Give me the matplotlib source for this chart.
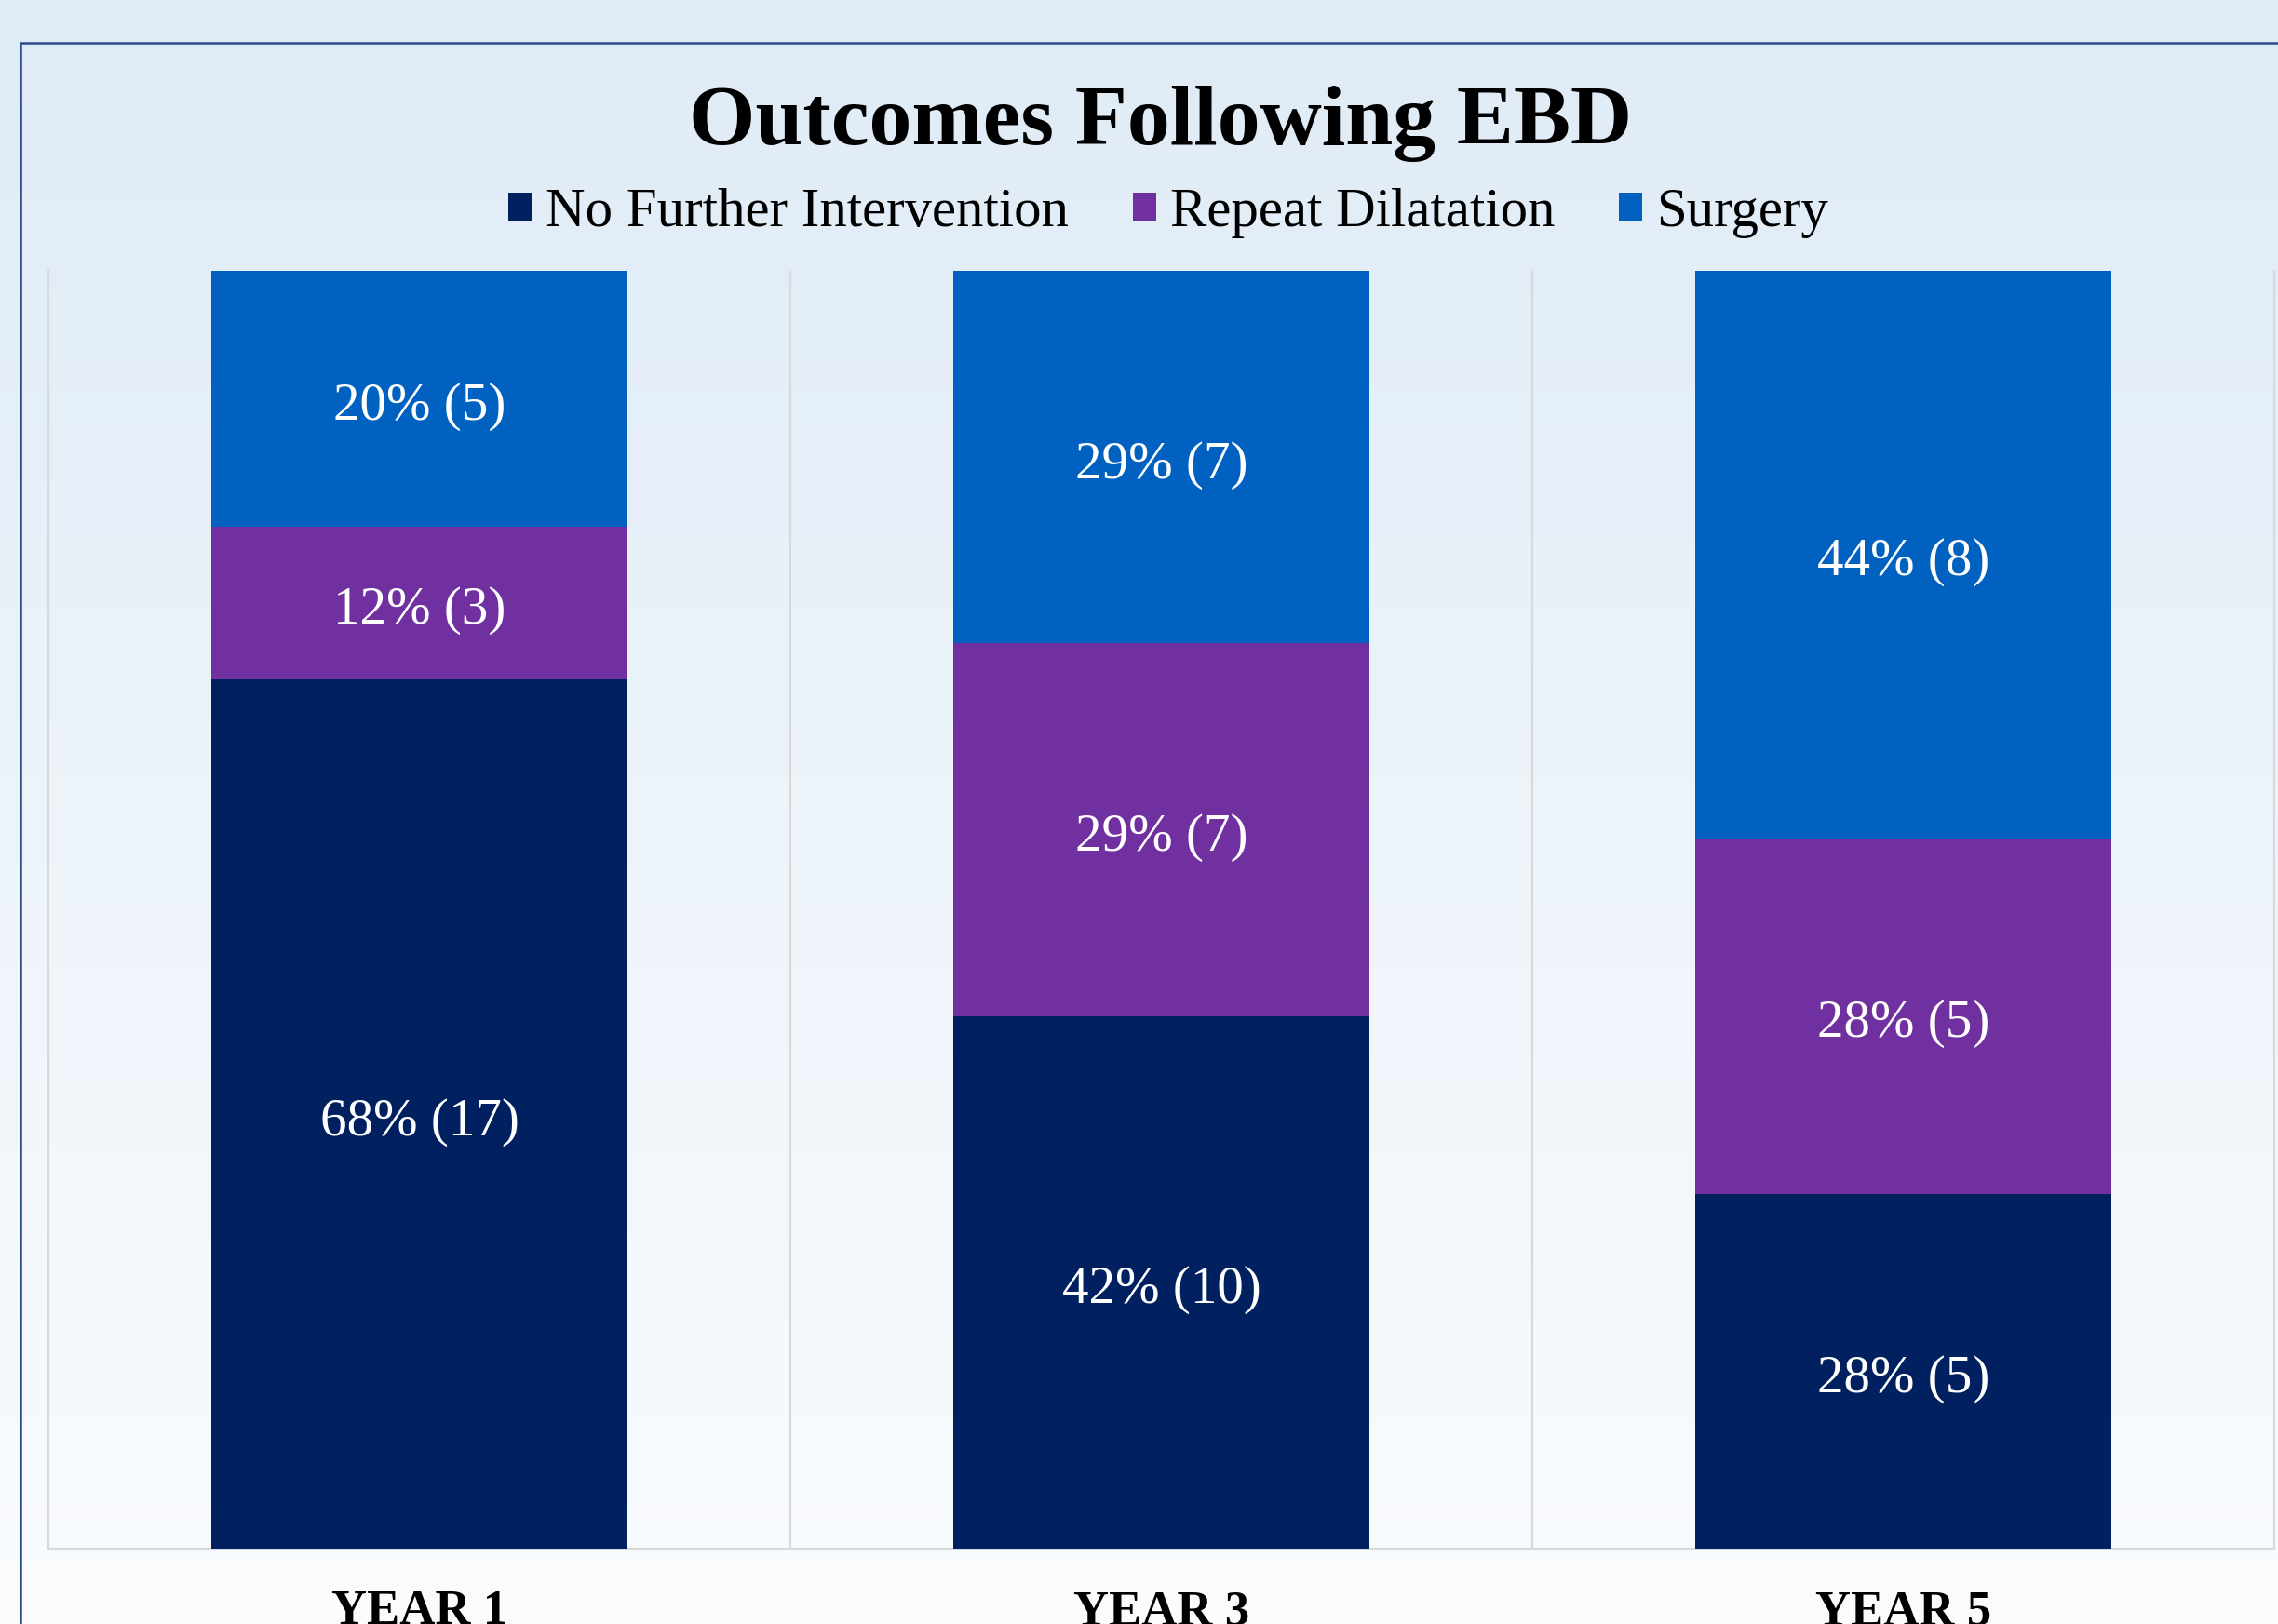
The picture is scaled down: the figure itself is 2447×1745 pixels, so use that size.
import numpy as np
import matplotlib.pyplot as plt
from matplotlib.patches import Rectangle

# data (patient counts per outcome)
years = ["YEAR 1", "YEAR 3", "YEAR 5"]
outcomes = ["No Further Intervention", "Repeat Dilatation", "Surgery"]
no_further = [17, 10, 5]
repeat_dil = [3, 7, 5]
surgery = [5, 7, 8]
colors = ["#002060", "#7030A0", "#0061C0"]

plt.rcParams['font.family'] = ['Liberation Serif', 'DejaVu Serif']

counts = np.array([no_further, repeat_dil, surgery], dtype=float)
totals = counts.sum(axis=0)
fracs = counts / totals

fig = plt.figure(figsize=(2447 / 200, 1745 / 200), dpi=200)

# gradient background over the whole figure
bg = fig.add_axes([0, 0, 1, 1], zorder=-10)
grad = np.linspace(0, 1, 256).reshape(-1, 1)
top_c = np.array([0xDF, 0xEB, 0xF6]) / 255
bot_c = np.array([0xFA, 0xFC, 0xFE]) / 255
img = top_c[None, None, :] * (1 - grad[:, :, None]) + bot_c[None, None, :] * grad[:, :, None]
bg.imshow(img, aspect='auto', extent=[0, 1, 0, 1])
bg.set_axis_off()

# chart border (runs off the right and bottom edges)
fig.patches.append(Rectangle((22 / 2447, -0.05), 1.1, 1 - 46 / 1745 + 0.05,
                             transform=fig.transFigure, fill=False,
                             edgecolor="#2B4A8B", linewidth=0.9, zorder=-5))

ax = fig.add_axes([52 / 2447, 1 - 1664 / 1745, (2443 - 52) / 2447, (1664 - 291) / 1745])
ax.patch.set_alpha(0)

x = np.arange(len(years))
bottom = np.zeros(len(years))
for i, name in enumerate(outcomes):
    ax.bar(x, fracs[i], 0.56, bottom=bottom, color=colors[i], label=name, zorder=3)
    for j in range(len(years)):
        pct = round(fracs[i, j] * 100)
        ax.annotate(f"{pct}% ({int(counts[i, j])})", (x[j], bottom[j] + fracs[i, j] / 2),
                    xytext=(0, -3), textcoords='offset points',
                    ha='center', va='center', color='white', fontsize=20.5, zorder=4)
    bottom += fracs[i]

ax.set_xlim(-0.5, len(years) - 0.5)
ax.set_ylim(0, 1)
ax.set_yticks([])
ax.set_xticks(x)
ax.set_xticklabels(years, fontsize=19, fontweight='bold')
ax.tick_params(axis='x', length=0, pad=16)
for xs in [0.5, 1.5]:
    ax.axvline(xs, color="#D9D9D9", linewidth=0.8, zorder=1)
for s in ['left', 'right', 'bottom']:
    ax.spines[s].set_color("#D9D9D9")
    ax.spines[s].set_linewidth(0.8)
ax.spines['top'].set_visible(False)

fig.text(1247 / 2447, 1 - 133 / 1745, "Outcomes Following EBD",
         ha='center', va='center', fontsize=33, fontweight='bold')

fig.legend(loc='center', bbox_to_anchor=(1255 / 2447, 1 - 229 / 1745), ncol=3,
           frameon=False, fontsize=21.2, handlelength=0.42, handleheight=0.42,
           handletextpad=0.25, columnspacing=1.18)

fig.savefig("out.png", dpi=200)
